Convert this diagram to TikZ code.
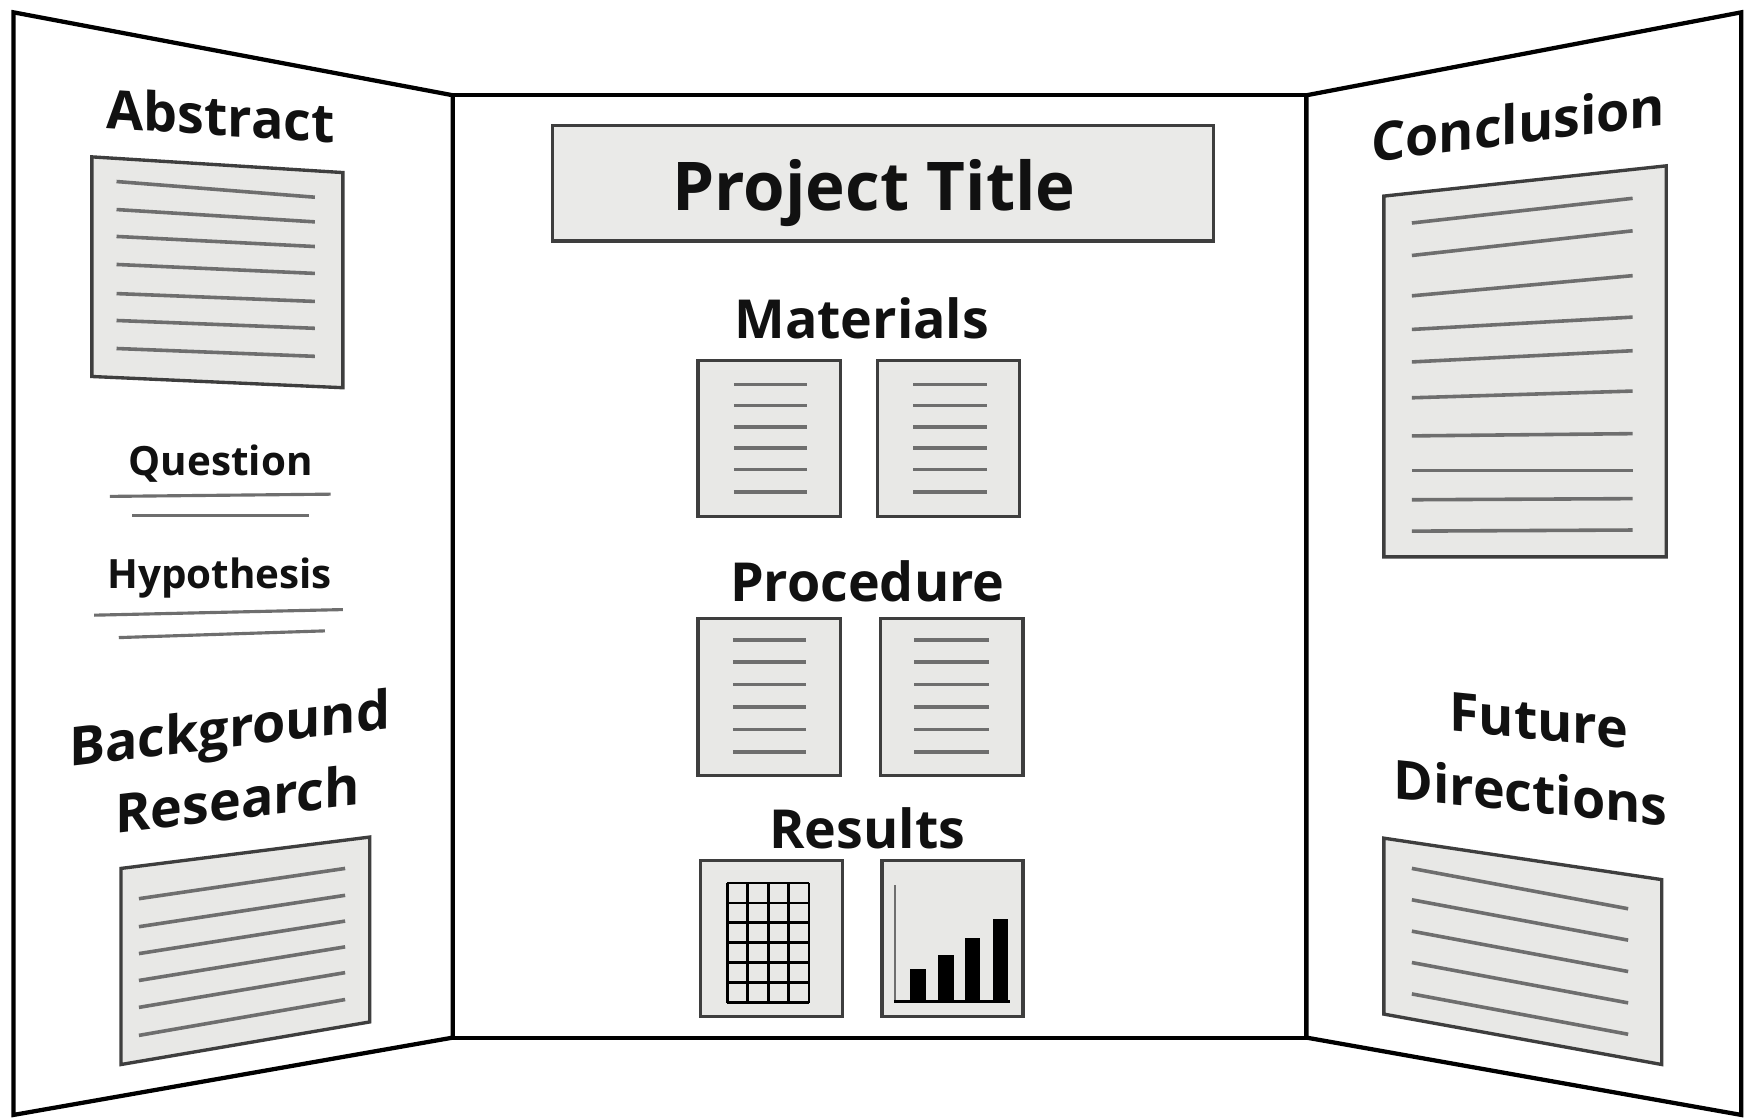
\documentclass[tikz,border=0pt]{standalone}
\usepackage{fontspec}
\setmainfont{Open Sans}
\definecolor{ink}{HTML}{111111}
\definecolor{cardedge}{HTML}{3E3E3E}
\definecolor{cardfill}{HTML}{E8E8E6}
\definecolor{lineg}{HTML}{6E6E6E}
\begin{document}
\begin{tikzpicture}[x=1pt,y=-1pt,
  panel/.style={draw=black, line width=3.8pt, fill=white, line join=miter},
  card/.style={draw=cardedge, line width=3pt, fill=cardfill, line join=miter},
  txtline/.style={draw=lineg, line width=3.2pt},
  ruleline/.style={draw=lineg, line width=2.8pt},
  lbl/.style={font=\fontsize{48}{56}\selectfont\bfseries, text=ink, inner sep=0pt, anchor=base},
  slbl/.style={font=\fontsize{36}{42}\selectfont\bfseries, text=ink, inner sep=0pt, anchor=base},
  tlbl/.style={font=\fontsize{60}{70}\selectfont\bfseries, text=ink, inner sep=0pt, anchor=base},
  gridline/.style={draw=black, line width=2.6pt},
  bar/.style={fill=black, draw=none}
]
\useasboundingbox (0,0) rectangle (1568,998);
\fill[white] (0,0) rectangle (1568,998);

% ---- board panels ----
\path[panel] (12,11) -- (404,85) -- (404,926) -- (12,995) -- cycle;
\path[panel] (404,85) rectangle (1166,926);
\path[panel] (1166,85) -- (1554,11) -- (1554,995) -- (1166,926) -- cycle;

% ---- left panel ----
\node[lbl, yslant=-0.065] (abstract) at (197,121) {Abstract};
\path[card] (82,140) -- (306,154) -- (306,346) -- (82,336) -- cycle;
\foreach \a/\b in {162/176,187/198,211/220,236/244,262/269,286/293,311/318}
  \draw[txtline] (104,\a) -- (281,\b);

\node[slbl] (question) at (197,424) {Question};
\draw[ruleline] (98,443) -- (295,441);
\draw[ruleline] (118,460) -- (276,460);

\node[slbl] (hypothesis) at (196,525) {Hypothesis};
\draw[ruleline] (84,549) -- (306,544);
\draw[ruleline] (106,569) -- (290,563);

\node[lbl, yslant=0.12] (background) at (205,667) {Background};
\node[lbl, yslant=0.12] (research) at (212,731) {Research};
\path[card] (108,775) -- (330,747) -- (330,912) -- (108,950) -- cycle;
\foreach \a/\b in {802/775,827/799,851/822,875/845,899/868,924/892}
  \draw[txtline] (124,\a) -- (308,\b);

% ---- centre panel ----
\path[card, fill=cardfill!90!white] (493,112) rectangle (1083,215);
\node[tlbl] (title) at (780,188) {Project Title};

\node[lbl] (materials) at (769,302) {Materials};
\path[card] (623,322) rectangle (750,461);
\path[card] (783,322) rectangle (910,461);
\foreach \y in {343,362,381,400,419,439} {
  \draw[txtline] (655,\y) -- (720,\y);
  \draw[txtline] (815,\y) -- (881,\y);
}

\node[lbl] (procedure) at (774,537) {Procedure};
\path[card] (623,552) rectangle (750,692);
\path[card] (786,552) rectangle (913,692);
\foreach \y in {571,591,611,631,651,671} {
  \draw[txtline] (654,\y) -- (719,\y);
  \draw[txtline] (816,\y) -- (883,\y);
}

\node[lbl] (results) at (774,757) {Results};
\path[card] (625,768) rectangle (752,907);
\path[card] (787,768) rectangle (913,907);
% table grid
\foreach \i in {0,...,4}
  \draw[gridline] ({649+\i*18.25},788) -- ({649+\i*18.25},895);
\foreach \j in {0,...,6}
  \draw[gridline] (649,{788+\j*17.83}) -- (722,{788+\j*17.83});
% bar chart
\draw[draw=lineg, line width=1.8pt] (799,790) -- (799,894);
\draw[draw=black, line width=2.8pt] (798,894) -- (901,894);
\path[bar] (812,865) rectangle (826,894);
\path[bar] (837,852) rectangle (851,894);
\path[bar] (861,837) rectangle (875,894);
\path[bar] (886,820) rectangle (900,894);

% ---- right panel ----
\node[lbl, yslant=0.127] (conclusion) at (1355,128) {Conclusion};
\path[card] (1235,175) -- (1487,148) -- (1487,497) -- (1235,497) -- cycle;
\foreach \a/\b in {199/177,228/206,264/246,294/283,323/313,355/349,389/387,420/420,446/445,474/473}
  \draw[txtline] (1260,\a) -- (1457,\b);

\node[lbl, yslant=-0.1] (future) at (1373,660) {Future};
\node[lbl, yslant=-0.1] (directions) at (1366,725) {Directions};
\path[card] (1235,748) -- (1483,785) -- (1483,950) -- (1235,905) -- cycle;
\foreach \a/\b in {775/811,803/839,831/867,859/895,887/923}
  \draw[txtline] (1260,\a) -- (1453,\b);
\end{tikzpicture}
\end{document}
